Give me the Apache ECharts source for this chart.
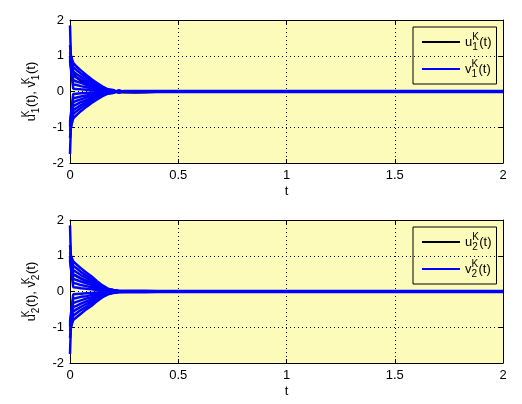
<!DOCTYPE html>
<html>
<head>
<meta charset="utf-8">
<script src="https://cdn.jsdelivr.net/npm/echarts@6/dist/echarts.min.js"></script>
<style>
  html, body { margin: 0; padding: 0; background: #fff; }
  #chart { width: 522px; height: 404px; }
</style>
</head>
<body>
<div id="chart"></div>
<script>
// time samples (s)
const t = [0, 0.004, 0.015, 0.03, 0.05, 0.075, 0.1, 0.125, 0.15, 0.175, 0.2, 0.225, 0.25, 0.3, 0.35, 0.4, 0.5, 1, 1.5, 2];

// subplot 1 : v1 curves (blue fan)
const v1 = [
  [1.85, 1.0, 0.8, 0.70, 0.59, 0.46, 0.34, 0.24, 0.14, 0.06, 0.04, -0.03, 0.015, 0.015, 0.015, 0.015, 0.015, 0.015, 0.015, 0.015],
  [1.3, 1.0, 0.68, 0.60, 0.50, 0.39, 0.29, 0.20, 0.12, 0.05, 0.03, -0.02, 0.01, 0, 0, 0, 0, 0, 0, 0],
  [1.1, 0.98, 0.56, 0.49, 0.41, 0.32, 0.24, 0.17, 0.10, 0.04, 0.02, -0.02, 0, 0, 0, 0, 0, 0, 0, 0],
  [1.0, 0.95, 0.44, 0.39, 0.33, 0.26, 0.19, 0.13, 0.08, 0.04, 0.02, -0.01, 0, 0, 0, 0, 0, 0, 0, 0],
  [0.95, 0.9, 0.32, 0.28, 0.24, 0.19, 0.14, 0.10, 0.06, 0.03, 0.01, -0.01, 0, 0, 0, 0, 0, 0, 0, 0],
  [0.9, 0.85, 0.2, 0.18, 0.15, 0.12, 0.09, 0.06, 0.04, 0.02, 0.01, 0, 0, 0, 0, 0, 0, 0, 0, 0],
  [0.85, 0.8, 0.08, 0.07, 0.06, 0.05, 0.04, 0.03, 0.02, 0.01, 0, 0, 0, 0, 0, 0, 0, 0, 0, 0],
  [-1.75, -1.0, -0.75, -0.66, -0.55, -0.43, -0.32, -0.22, -0.13, -0.06, -0.04, 0.03, -0.015, -0.015, -0.015, -0.015, -0.015, -0.015, -0.015, -0.015],
  [-1.3, -1.0, -0.63, -0.55, -0.46, -0.36, -0.27, -0.19, -0.11, -0.05, -0.03, 0.02, -0.01, 0, 0, 0, 0, 0, 0, 0],
  [-1.1, -0.98, -0.52, -0.46, -0.38, -0.30, -0.22, -0.15, -0.09, -0.04, -0.02, 0.02, 0, 0, 0, 0, 0, 0, 0, 0],
  [-1.0, -0.95, -0.41, -0.36, -0.30, -0.24, -0.18, -0.12, -0.07, -0.03, -0.02, 0.01, 0, 0, 0, 0, 0, 0, 0, 0],
  [-0.95, -0.9, -0.30, -0.26, -0.22, -0.17, -0.13, -0.09, -0.05, -0.02, -0.01, 0.01, 0, 0, 0, 0, 0, 0, 0, 0],
  [-0.9, -0.85, -0.19, -0.17, -0.14, -0.11, -0.08, -0.06, -0.03, -0.02, -0.01, 0, 0, 0, 0, 0, 0, 0, 0, 0],
  [-0.85, -0.8, -0.07, -0.06, -0.05, -0.04, -0.03, -0.02, -0.01, 0, 0, 0, 0, 0, 0, 0, 0, 0, 0, 0]
];
// subplot 1 : u1 (black, mostly hidden under the blue)
const u1 = [1.0, 0.9, 0.5, 0.4, 0.3, 0.2, 0.12, 0.06, 0.02, 0, -0.01, -0.02, -0.02, -0.025, -0.02, -0.01, 0, 0, 0, 0];

// subplot 2 : v2 curves
const v2 = [
  [1.85, 1.0, 0.84, 0.76, 0.65, 0.53, 0.42, 0.29, 0.17, 0.08, 0.04, 0.02, 0.02, 0.02, 0.018, 0.016, 0.015, 0.015, 0.015, 0.015],
  [1.3, 1.0, 0.72, 0.65, 0.55, 0.45, 0.36, 0.24, 0.14, 0.07, 0.04, 0.015, 0.01, 0.01, 0.005, 0, 0, 0, 0, 0],
  [1.1, 0.98, 0.6, 0.54, 0.46, 0.38, 0.3, 0.2, 0.12, 0.06, 0.03, 0.01, 0.01, 0.005, 0, 0, 0, 0, 0, 0],
  [1.0, 0.95, 0.48, 0.43, 0.37, 0.3, 0.24, 0.16, 0.1, 0.05, 0.02, 0.01, 0, 0, 0, 0, 0, 0, 0, 0],
  [0.95, 0.9, 0.36, 0.32, 0.28, 0.23, 0.18, 0.12, 0.07, 0.04, 0.02, 0.01, 0, 0, 0, 0, 0, 0, 0, 0],
  [0.9, 0.85, 0.24, 0.22, 0.18, 0.15, 0.12, 0.08, 0.05, 0.02, 0.01, 0, 0, 0, 0, 0, 0, 0, 0, 0],
  [0.85, 0.8, 0.12, 0.11, 0.09, 0.08, 0.06, 0.04, 0.02, 0.01, 0, 0, 0, 0, 0, 0, 0, 0, 0, 0],
  [-1.75, -1.0, -0.8, -0.72, -0.62, -0.5, -0.4, -0.27, -0.16, -0.08, -0.04, -0.02, -0.02, -0.02, -0.018, -0.016, -0.015, -0.015, -0.015, -0.015],
  [-1.3, -1.0, -0.68, -0.61, -0.52, -0.43, -0.34, -0.23, -0.14, -0.07, -0.03, -0.015, -0.01, -0.01, -0.005, 0, 0, 0, 0, 0],
  [-1.1, -0.98, -0.56, -0.5, -0.43, -0.35, -0.28, -0.19, -0.11, -0.06, -0.03, -0.01, -0.01, -0.005, 0, 0, 0, 0, 0, 0],
  [-1.0, -0.95, -0.44, -0.4, -0.34, -0.28, -0.22, -0.15, -0.09, -0.04, -0.02, -0.01, 0, 0, 0, 0, 0, 0, 0, 0],
  [-0.95, -0.9, -0.32, -0.29, -0.25, -0.2, -0.16, -0.11, -0.06, -0.03, -0.02, -0.01, 0, 0, 0, 0, 0, 0, 0, 0],
  [-0.9, -0.85, -0.2, -0.18, -0.15, -0.13, -0.1, -0.07, -0.04, -0.02, -0.01, 0, 0, 0, 0, 0, 0, 0, 0, 0],
  [-0.85, -0.8, -0.08, -0.07, -0.06, -0.05, -0.04, -0.03, -0.02, -0.01, 0, 0, 0, 0, 0, 0, 0, 0, 0, 0]
];
const u2 = [1.0, 0.95, 0.48, 0.43, 0.37, 0.3, 0.24, 0.16, 0.1, 0.05, 0.02, 0.01, 0, 0, 0, 0, 0, 0, 0, 0];

const FONT = 'Liberation Sans, Arial, sans-serif'
const YELLOW = '#fdfbb9'
const gridTops = [20, 220]

const rich = {
  m: { fontSize: 13, lineHeight: 20, color: '#000', fontFamily: FONT },
  sup: { fontSize: 10, lineHeight: 10, verticalAlign: 'top', width: 0, color: '#000', fontFamily: FONT },
  sub: { fontSize: 10, lineHeight: 10, verticalAlign: 'bottom', width: 7, color: '#000', fontFamily: FONT }
}

function legendText(name) {
  // name like 'u1' -> u^K_1(t)
  return `{m|${name[0]}}{sup|K}{sub|${name[1]}}{m|(t)}`
}

function line(name, ys, color, g, z) {
  return {
    name: name,
    type: 'line',
    xAxisIndex: g,
    yAxisIndex: g,
    data: t.map((x, i) => [x, ys[i]]),
    symbol: 'none',
    lineStyle: { color: color, width: 2.5 },
    itemStyle: { color: color },
    z: z,
    animation: false
  }
}

const series = []
series.push(line('u1', u1, '#000', 0, 2))
v1.forEach(ys => series.push(line('v1', ys, '#0000ff', 0, 3)))
series.push(line('u2', u2, '#000', 1, 2))
v2.forEach(ys => series.push(line('v2', ys, '#0000ff', 1, 3)))

const xAxis = []
const yAxis = []
;[0, 1].forEach(g => {
  xAxis[g] = {
    type: 'value', gridIndex: g, min: 0, max: 2, interval: 0.5, position: 'bottom',
    name: 't', nameLocation: 'middle', nameGap: 22,
    nameTextStyle: { color: '#000', fontSize: 13, fontFamily: FONT },
    axisLine: { onZero: false, lineStyle: { color: '#000', width: 1 } },
    axisTick: { inside: true, length: 4, lineStyle: { color: '#000' } },
    axisLabel: { color: '#000', fontSize: 13, margin: 6, fontFamily: FONT },
    splitLine: { show: true, lineStyle: { color: '#000', type: [1, 3], width: 1 } }
  }
  xAxis[g + 2] = {
    type: 'value', gridIndex: g, min: 0, max: 2, interval: 0.5, position: 'top',
    axisLine: { onZero: false, lineStyle: { color: '#000', width: 1 } },
    axisTick: { inside: true, length: 4, lineStyle: { color: '#000' } },
    axisLabel: { show: false },
    splitLine: { show: false }
  }
  const n = g + 1
  yAxis[g] = {
    type: 'value', gridIndex: g, min: -2, max: 2, interval: 1, position: 'left',
    name: `{m|u}{sup|K}{sub|${n}}{m|(t), v}{sup|K}{sub|${n}}{m|(t)}`,
    nameLocation: 'middle', nameRotate: 90, nameGap: 27,
    nameTextStyle: { rich: rich },
    axisLine: { onZero: false, lineStyle: { color: '#000', width: 1 } },
    axisTick: { inside: true, length: 4, lineStyle: { color: '#000' } },
    axisLabel: { color: '#000', fontSize: 13, margin: 6, fontFamily: FONT },
    splitLine: { show: true, lineStyle: { color: '#000', type: [1, 3], width: 1 } }
  }
  yAxis[g + 2] = {
    type: 'value', gridIndex: g, min: -2, max: 2, interval: 1, position: 'right',
    axisLine: { onZero: false, lineStyle: { color: '#000', width: 1 } },
    axisTick: { inside: true, length: 4, lineStyle: { color: '#000' } },
    axisLabel: { show: false },
    splitLine: { show: false }
  }
})

const option = {
  backgroundColor: '#fff',
  animation: false,
  grid: gridTops.map(top => ({
    left: 70, top: top, width: 433, height: 143,
    show: true, backgroundColor: YELLOW, borderWidth: 0
  })),
  legend: [0, 1].map(g => ({
    orient: 'vertical',
    left: 413,
    top: gridTops[g] + 7,
    data: ['u' + (g + 1), 'v' + (g + 1)],
    icon: 'rect',
    itemWidth: 38,
    itemHeight: 2,
    itemGap: 7,
    padding: [5, 5, 5, 9],
    borderColor: '#000',
    borderWidth: 1,
    backgroundColor: 'transparent',
    selectedMode: false,
    formatter: legendText,
    textStyle: { rich: rich }
  })),
  xAxis: xAxis,
  yAxis: yAxis,
  series: series
}

const myCharts = echarts.init(document.getElementById('chart'))
myCharts.setOption(option)
window.addEventListener('resize', myCharts.resize)
</script>
</body>
</html>
